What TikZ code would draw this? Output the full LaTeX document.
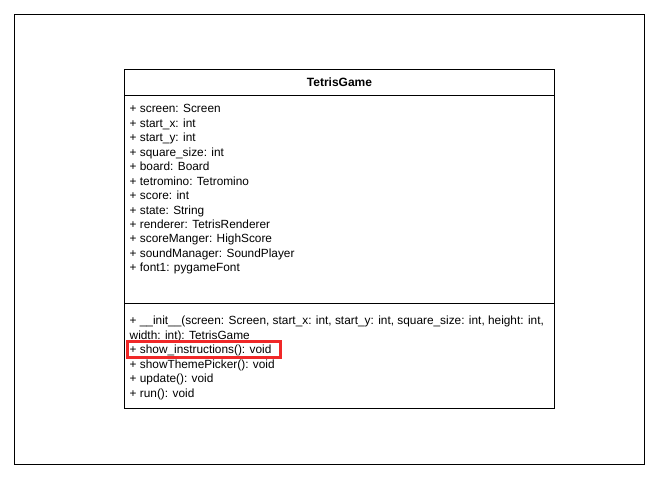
\documentclass[tikz,border=0pt]{standalone}
\usepackage{fontspec}
\setmainfont{Liberation Sans}
\definecolor{hl}{RGB}{240,40,40}
\begin{document}
\begin{tikzpicture}[x=1pt,y=-1pt,
  frame/.style={draw=black,line width=1pt},
  member/.style={anchor=base west,inner sep=0pt,font=\fontsize{11.85}{14}\selectfont},
  titletext/.style={inner sep=0pt,font=\fontsize{12}{14}\selectfont\bfseries}]
\useasboundingbox (0,0) rectangle (656,482);
\draw[frame] (14,14) rectangle (644,464);
% class box
\draw[frame] (124.5,69) rectangle (554.5,408.5);
\draw[frame] (124.5,95) -- (554.5,95);
\draw[frame] (124.5,303) -- (554.5,303);
\node[titletext] (title) at (339.5,82.5) {TetrisGame};
% attributes
\node[member] (a1) at (129.5,112.8) {+ screen: Screen};
\node[member] (a2) at (129.5,127.3) {+ start\_x: int};
\node[member] (a3) at (129.5,141.7) {+ start\_y: int};
\node[member] (a4) at (129.5,156.2) {+ square\_size: int};
\node[member] (a5) at (129.5,170.6) {+ board: Board};
\node[member] (a6) at (129.5,185.1) {+ tetromino: Tetromino};
\node[member] (a7) at (129.5,199.5) {+ score: int};
\node[member] (a8) at (129.5,214.0) {+ state: String};
\node[member] (a9) at (129.5,228.4) {+ renderer: TetrisRenderer};
\node[member] (a10) at (129.5,242.9) {+ scoreManger: HighScore};
\node[member] (a11) at (129.5,257.3) {+ soundManager: SoundPlayer};
\node[member] (a12) at (129.5,271.8) {+ font1: pygameFont};
% methods
\node[member] (m1) at (129.5,324.8) {+ \_\_init\_\_(screen: Screen, start\_x: int, start\_y: int, square\_size: int, height: int,};
\node[member] (m2) at (129.5,339.2) {width: int): TetrisGame};
\node[member] (m3) at (129.5,353.7) {+ show\_instructions(): void};
\node[member] (m4) at (129.5,368.1) {+ showThemePicker(): void};
\node[member] (m5) at (129.5,382.6) {+ update(): void};
\node[member] (m6) at (129.5,397.0) {+ run(): void};
% highlight
\draw[hl,line width=2.2pt] (127.5,341.5) rectangle (280.5,357.5);
\end{tikzpicture}
\end{document}
